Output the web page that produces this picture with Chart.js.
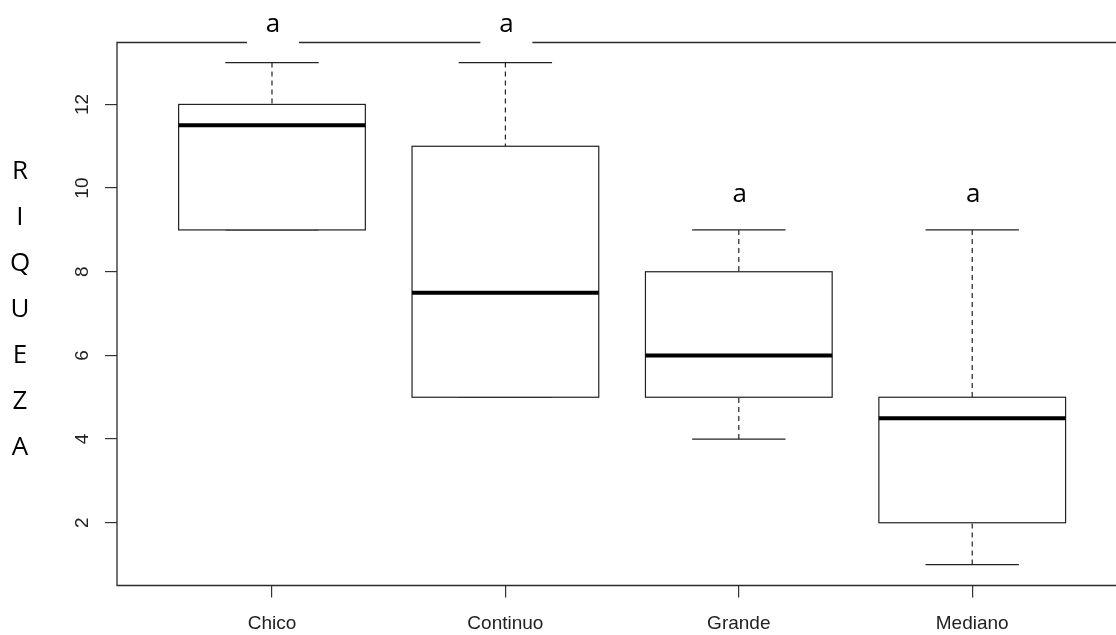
<!DOCTYPE html>
<html>
<head>
<meta charset="utf-8">
<script src="https://cdn.jsdelivr.net/npm/chart.js@4/dist/chart.umd.min.js"></script>
<style>
  html, body { margin: 0; padding: 0; background: #fff; overflow: hidden; }
  canvas { display: block; }
</style>
</head>
<body>
<canvas id="c" width="1116" height="635"></canvas>
<script>
// Riqueza por tipo de sitio: cinco números de cada caja
const categories     = ['Chico', 'Continuo', 'Grande', 'Mediano'];
const whiskerLow     = [9, 5, 4, 1];
const lowerQuartile  = [9, 5, 5, 2];
const medians        = [11.5, 7.5, 6, 4.5];
const upperQuartile  = [12, 11, 8, 5];
const whiskerHigh    = [13, 13, 9, 9];
// letras de agrupamiento y la altura (en unidades del eje) de su línea base
const groupLetters   = ['a', 'a', 'a', 'a'];
const letterLevel    = [13.74, 13.74, 9.66, 9.66];
const yTicks         = [2, 4, 6, 8, 10, 12];
const yTitleLetters  = ['R', 'I', 'Q', 'U', 'E', 'Z', 'A'];

const AXIS_FONT = '19px "Liberation Sans", Arial, sans-serif';
const NOTE_FONT = '26px "Open Sans", sans-serif';
const INK = '#222';

const boxplotPlugin = {
  id: 'boxplot',
  afterDatasetsDraw(chart) {
    const { ctx, scales: { x, y } } = chart;
    ctx.save();
    categories.forEach((_, i) => {
      const cx = x.getPixelForValue(i + 1);
      const left = x.getPixelForValue(i + 1 - 0.4);
      const right = x.getPixelForValue(i + 1 + 0.4);
      const capL = x.getPixelForValue(i + 1 - 0.2);
      const capR = x.getPixelForValue(i + 1 + 0.2);
      const yQ1 = y.getPixelForValue(lowerQuartile[i]);
      const yQ3 = y.getPixelForValue(upperQuartile[i]);
      const yMed = y.getPixelForValue(medians[i]);
      const yLo = y.getPixelForValue(whiskerLow[i]);
      const yHi = y.getPixelForValue(whiskerHigh[i]);

      ctx.strokeStyle = INK;
      ctx.lineWidth = 1.2;

      // bigotes discontinuos
      ctx.setLineDash([5, 4]);
      if (whiskerHigh[i] > upperQuartile[i]) {
        ctx.beginPath(); ctx.moveTo(cx, yHi); ctx.lineTo(cx, yQ3); ctx.stroke();
      }
      if (whiskerLow[i] < lowerQuartile[i]) {
        ctx.beginPath(); ctx.moveTo(cx, yLo); ctx.lineTo(cx, yQ1); ctx.stroke();
      }
      ctx.setLineDash([]);

      // remates de los bigotes
      ctx.beginPath(); ctx.moveTo(capL, yHi); ctx.lineTo(capR, yHi); ctx.stroke();
      ctx.beginPath(); ctx.moveTo(capL, yLo); ctx.lineTo(capR, yLo); ctx.stroke();

      // caja
      ctx.fillStyle = '#fff';
      ctx.fillRect(left, yQ3, right - left, yQ1 - yQ3);
      ctx.strokeRect(left, yQ3, right - left, yQ1 - yQ3);

      // mediana
      ctx.strokeStyle = '#000';
      ctx.lineWidth = 4;
      ctx.lineCap = 'butt';
      ctx.beginPath(); ctx.moveTo(left, yMed); ctx.lineTo(right, yMed); ctx.stroke();
    });
    ctx.restore();
  },
  afterDraw(chart) {
    const { ctx, chartArea: a, scales: { x, y } } = chart;
    ctx.save();

    // marco del gráfico (izquierda, arriba, abajo)
    ctx.strokeStyle = '#2a2a2a';
    ctx.lineWidth = 1.3;
    ctx.beginPath();
    ctx.moveTo(a.right + 2, a.top);
    ctx.lineTo(a.left, a.top);
    ctx.lineTo(a.left, a.bottom);
    ctx.lineTo(a.right + 2, a.bottom);
    ctx.stroke();

    // etiquetas del eje Y, giradas
    ctx.fillStyle = INK;
    ctx.font = AXIS_FONT;
    ctx.textAlign = 'center';
    ctx.textBaseline = 'alphabetic';
    y.ticks.forEach(t => {
      const py = y.getPixelForValue(t.value);
      ctx.save();
      ctx.translate(a.left - 29, py);
      ctx.rotate(-Math.PI / 2);
      ctx.fillText(String(t.value), 0, 0);
      ctx.restore();
    });

    // título del eje Y, letra por letra
    ctx.fillStyle = '#000';
    ctx.font = NOTE_FONT;
    yTitleLetters.forEach((ch, i) => {
      ctx.fillText(ch, 20, 179 + i * 46);
    });

    // letras de significación sobre cada caja
    groupLetters.forEach((ch, i) => {
      const px = x.getPixelForValue(i + 1);
      const py = y.getPixelForValue(letterLevel[i]);
      ctx.fillStyle = '#fff';
      ctx.fillRect(px - 25, py - 26, 52, 40);
      ctx.fillStyle = '#000';
      ctx.fillText(ch, px + 1, py);
    });
    ctx.restore();
  }
};

new Chart(document.getElementById('c'), {
  type: 'scatter',
  data: {
    datasets: [{
      data: medians.map((m, i) => ({ x: i + 1, y: m })),
      pointRadius: 0,
      showLine: false
    }]
  },
  options: {
    responsive: false,
    animation: false,
    devicePixelRatio: 1,
    layout: { padding: { top: 42.5, left: 0, right: 0, bottom: 0 } },
    plugins: { legend: { display: false }, tooltip: { enabled: false } },
    scales: {
      x: {
        type: 'linear',
        min: 0.336,
        max: 4.616,
        afterBuildTicks: s => { s.ticks = categories.map((_, i) => ({ value: i + 1 })); },
        afterFit: s => { s.height = 49.5; },
        border: { display: false },
        grid: { drawOnChartArea: false, drawTicks: true, tickLength: 12, color: '#333', lineWidth: 1.2 },
        ticks: {
          callback: v => categories[v - 1],
          font: { family: '"Liberation Sans", Arial, sans-serif', size: 19 },
          color: INK,
          padding: 15,
          maxRotation: 0,
          autoSkip: false
        }
      },
      y: {
        type: 'linear',
        min: 0.5,
        max: 13.48,
        afterBuildTicks: s => { s.ticks = yTicks.map(v => ({ value: v })); },
        afterFit: s => { s.width = 117; },
        border: { display: false },
        grid: { drawOnChartArea: false, drawTicks: true, tickLength: 12, color: '#333', lineWidth: 1.2 },
        ticks: { display: false }
      }
    }
  },
  plugins: [boxplotPlugin]
});
</script>
</body>
</html>
